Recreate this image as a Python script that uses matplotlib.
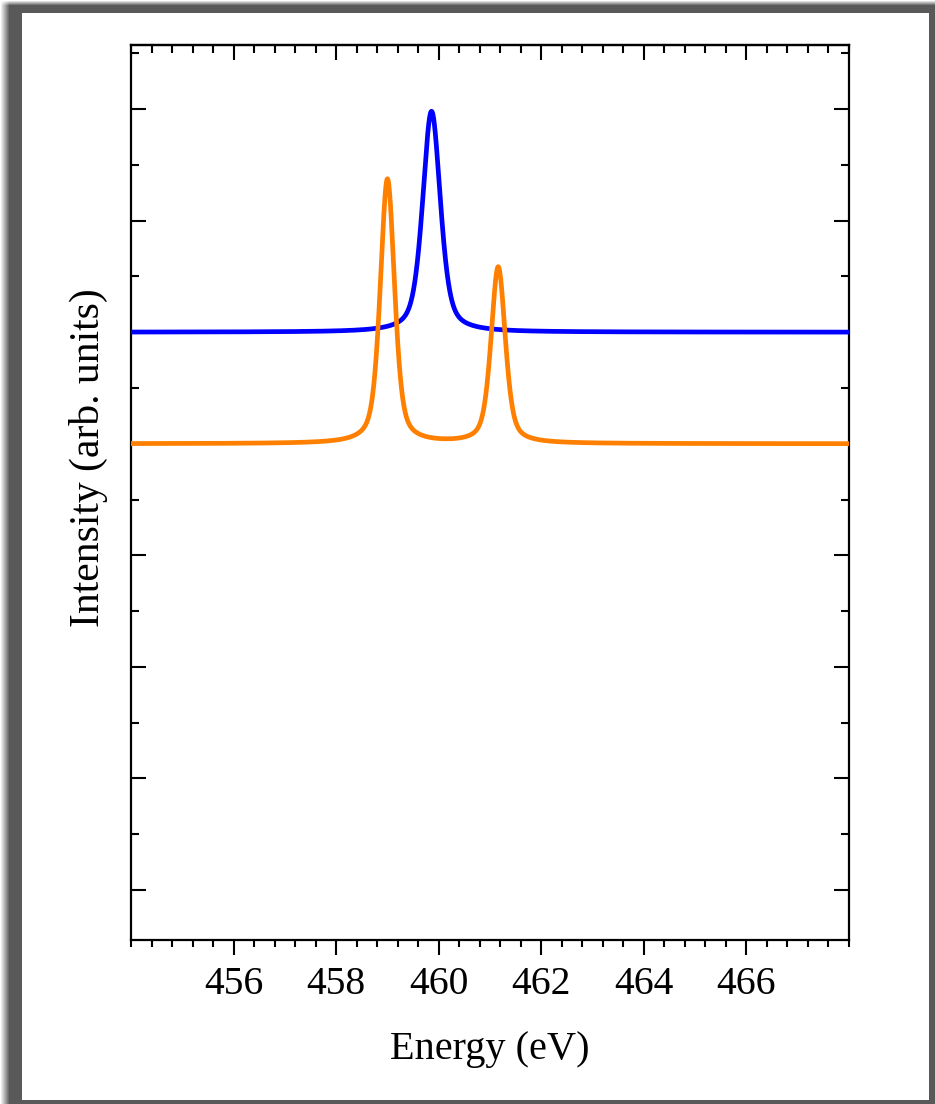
import numpy as np
import matplotlib
matplotlib.use("Agg")
import matplotlib.pyplot as plt
from matplotlib.ticker import MultipleLocator, NullFormatter

# ---------------- data ----------------
energy_min, energy_max = 454.0, 468.0
x_ticks = [456, 458, 460, 462, 464, 466]
x_tick_labels = ["456", "458", "460", "462", "464", "466"]

blue_offset = 6.0
blue_centers = [459.86]
blue_heights = [1.98]
blue_fwhm = [0.41]

orange_offset = 5.0
orange_centers = [459.00, 461.16]
orange_heights = [2.37, 1.58]
orange_fwhm = [0.33, 0.33]

lorentz_fraction = 0.5   # pseudo-Voigt mixing

# ---------------- helpers ----------------
def pseudo_voigt(x, c, h, w, eta):
    hw = w / 2.0
    d = (x - c) / hw
    lor = 1.0 / (1.0 + d ** 2)
    gau = np.exp(-np.log(2.0) * d ** 2)
    return h * (eta * lor + (1 - eta) * gau)

def spectrum(x, offset, centers, heights, widths):
    y = np.full_like(x, offset)
    for c, h, w in zip(centers, heights, widths):
        y += pseudo_voigt(x, c, h, w, lorentz_fraction)
    return y

W, H = 935, 1104
DPI = 100
fig = plt.figure(figsize=(W / DPI, H / DPI), dpi=DPI)
fig.patch.set_facecolor("white")

# ---- page shadow background (decoration) ----
bg_ax = fig.add_axes([0, 0, 1, 1], zorder=-10)
yy, xx = np.mgrid[0:H, 0:W].astype(float)
a_left = np.clip((xx - 0.0) / 9.0, 0, 1)
a_top = np.clip((yy - 0.0) / 5.0, 0, 1)
shadow = a_left * a_top
gray = 1.0 - (1.0 - 0.35) * shadow
page = (xx >= 22) & (xx < 929) & (yy >= 13) & (yy < 1100)
gray[page] = 1.0
bg_ax.imshow(gray, cmap="gray", vmin=0, vmax=1, extent=[0, W, H, 0],
             interpolation="nearest", aspect="auto")
bg_ax.set_xlim(0, W)
bg_ax.set_ylim(H, 0)
bg_ax.axis("off")

# ---- main axes ----
left, right = 131 / W, 849 / W
bottom, top = 1 - 940 / H, 1 - 45 / H
ax = fig.add_axes([left, bottom, right - left, top - bottom])
ax.set_facecolor("none")

x = np.linspace(energy_min, energy_max, 3000)
ax.plot(x, spectrum(x, blue_offset, blue_centers, blue_heights, blue_fwhm),
        color="#0000ff", lw=3.4, solid_joinstyle="round", zorder=3)
ax.plot(x, spectrum(x, orange_offset, orange_centers, orange_heights, orange_fwhm),
        color="#ff8000", lw=3.4, solid_joinstyle="round", zorder=3)

ax.set_xlim(energy_min, energy_max)
ax.set_ylim(0.552, 8.574)

serif = ["Liberation Serif", "DejaVu Serif"]

ax.set_xticks(x_ticks)
ax.set_xticklabels(x_tick_labels, fontfamily=serif, fontsize=28.5)
ax.xaxis.set_minor_locator(MultipleLocator(0.4))
ax.yaxis.set_major_locator(MultipleLocator(1.0))
ax.yaxis.set_minor_locator(MultipleLocator(0.5))
ax.yaxis.set_major_formatter(NullFormatter())

for s in ax.spines.values():
    s.set_linewidth(1.6)

ax.tick_params(axis="x", which="major", direction="out", length=10.5, width=1.5,
               bottom=True, top=False, pad=8.5, labelsize=28.5)
ax.tick_params(axis="x", which="minor", direction="out", length=5.2, width=1.5,
               bottom=True, top=False)
ax.tick_params(axis="y", which="major", direction="in", length=10.8, width=1.5,
               left=True, right=True, labelleft=False)
ax.tick_params(axis="y", which="minor", direction="in", length=5.6, width=1.5,
               left=True, right=True)

sec = ax.secondary_xaxis("top")
sec.set_xticks(x_ticks)
sec.xaxis.set_minor_locator(MultipleLocator(0.4))
sec.tick_params(axis="x", which="major", direction="in", length=10.8, width=1.5,
                labeltop=False)
sec.tick_params(axis="x", which="minor", direction="in", length=5.6, width=1.5)
sec.spines["top"].set_linewidth(1.6)

fig.text((131 + 849) / 2 / W, 1 - 1050 / H, "Energy (eV)", fontfamily=serif,
         fontsize=29, ha="center", va="center")
fig.text(88 / W, 1 - 458 / H, "Intensity (arb. units)", fontfamily=serif,
         fontsize=30, ha="center", va="center", rotation=90)

fig.savefig("out.png", dpi=DPI)
